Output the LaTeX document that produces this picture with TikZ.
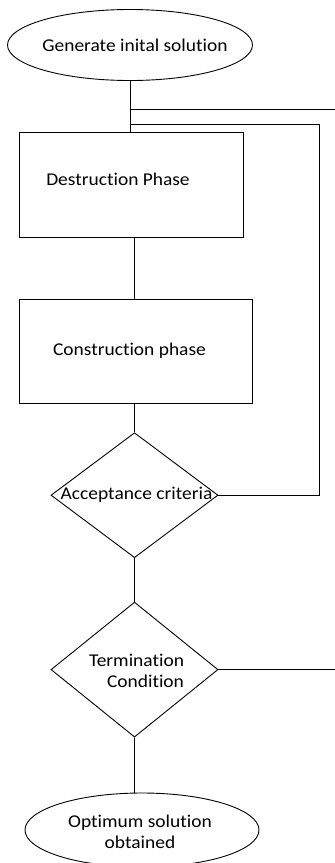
\documentclass[tikz,border=0pt]{standalone}
\usepackage{fontspec}
\setmainfont{Carlito}[Ligatures=NoCommon,FakeStretch=1.08]
\usetikzlibrary{positioning,shapes.geometric}

\begin{document}
\begin{tikzpicture}[x=1pt,y=-1pt,line width=0.9pt,
    node distance=50pt,
    every label/.style={font=\fontsize{18}{21}\selectfont,inner sep=0pt,align=center},
    terminal/.style={draw,ellipse,inner sep=0pt},
    phasebox/.style={draw,rectangle,minimum width=224pt,minimum height=105pt,inner sep=0pt},
    decision/.style={draw,diamond,minimum width=167pt,minimum height=125pt,inner sep=0pt}]
  \useasboundingbox (0,0) rectangle (335,863);
  \coordinate (frameR) at (335,0);
  \coordinate (loopR) at (319,0);

  \node[terminal,minimum width=245pt,minimum height=71pt,
        label={[xshift=5pt]center:Generate inital solution}] (init) at (130,45) {};
  \node[phasebox,below=51pt of init,xshift=1pt,
        label={[xshift=-13pt,yshift=6pt]center:Destruction Phase}] (destr) {};
  \node[phasebox,minimum width=233pt,minimum height=104pt,below=61pt of destr,xshift=4.5pt,
        label={[xshift=-6pt,yshift=1pt]center:Construction phase}] (constr) {};
  \node[decision,below=28.5pt of constr,xshift=-1pt,
        label={[xshift=2pt]center:Acceptance criteria}] (accept) {};
  \node[decision,minimum height=135pt,below=43.5pt of accept,
        label={[xshift=2pt,yshift=-1pt,align=right]center:Termination\\Condition}] (term) {};
  \node[terminal,minimum width=234pt,minimum height=74pt,below=55pt of term,xshift=7.5pt,
        label={[xshift=-2pt,yshift=-2pt]center:Optimum solution\\obtained}] (opt) {};

  \coordinate[below=28.5pt of init.south] (split1);
  \coordinate[below=43.5pt of init.south] (split2);

  \draw (init.south) -- (init.south |- destr.north);
  \draw (destr.south -| accept.north) -- (constr.north -| accept.north);
  \draw (constr.south -| accept.north) -- (accept.north);
  \draw (accept.south) -- (term.north);
  \draw (term.south) -- (term.south |- opt.north);
  \draw (split1) -- (split1 -| frameR);
  \draw (accept.east) -| (loopR |- split2) -- (split2);
  \draw (term.east) -- (term.east -| frameR);
\end{tikzpicture}
\end{document}
